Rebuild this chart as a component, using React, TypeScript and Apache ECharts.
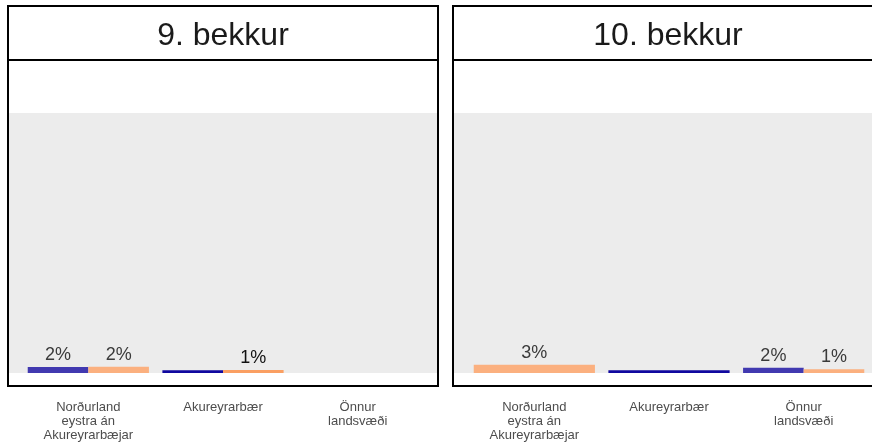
import React, { useEffect, useRef } from "react";
import * as echarts from "echarts";

const categories = ["Norðurland\neystra án\nAkureyrarbæjar", "Akureyrarbær", "Önnur\nlandsvæði"];
const panelTitles = ["9. bekkur", "10. bekkur"];
const blue9: (number | null)[] = [2.3, 1.1, null];
const orange9: (number | null)[] = [2.4, 1.2, null];
const blue10: (number | null)[] = [null, 1.1, 2.0];
const orange10: (number | null)[] = [3.2, null, 1.4];
const highlightCategory = "Akureyrarbær";

const FONT = "Liberation Sans, Arial, sans-serif";
const COLORS = {
  blue: "#4139b0",
  orange: "#fbb07f",
  blueHi: "#10089f",
  orangeHi: "#fa9f62",
};

type Meta = { color: string; showLabel: boolean; labelColor: string };

function makeSeries(panel: number, blue: (number | null)[], orange: (number | null)[]) {
  const data: any[] = [];
  const meta: Meta[] = [];
  categories.forEach((cat, i) => {
    const hi = cat === highlightCategory;
    const present: { v: number; kind: "blue" | "orange" }[] = [];
    if (blue[i] != null) present.push({ v: blue[i] as number, kind: "blue" });
    if (orange[i] != null) present.push({ v: orange[i] as number, kind: "orange" });
    present.forEach((p, slot) => {
      data.push([i, p.v, slot, present.length]);
      meta.push({
        color: p.kind === "blue" ? (hi ? COLORS.blueHi : COLORS.blue) : hi ? COLORS.orangeHi : COLORS.orange,
        showLabel: !(hi && p.kind === "blue"),
        labelColor: hi ? "#111111" : "#3a3a3a",
      });
    });
  });
  return {
    type: "custom",
    xAxisIndex: panel,
    yAxisIndex: panel,
    coordinateSystem: "cartesian2d",
    encode: { x: 0, y: 1 },
    z: 5,
    data,
    renderItem: (params: any, api: any) => {
      const cat = api.value(0);
      const val = api.value(1);
      const slot = api.value(2);
      const n = api.value(3);
      const m = meta[params.dataIndex];
      const base = api.coord([cat, 0]);
      const top = api.coord([cat, val]);
      const band = api.size([1, 0])[0];
      const total = band * 0.9;
      const w = total / n;
      const x0 = base[0] - total / 2 + slot * w;
      const children: any[] = [
        {
          type: "rect",
          shape: { x: x0, y: top[1], width: w, height: base[1] - top[1] },
          style: { fill: m.color },
        },
      ];
      if (m.showLabel) {
        children.push({
          type: "text",
          x: x0 + w / 2,
          y: top[1] - 4,
          style: {
            text: `${Math.round(val)}%`,
            fill: m.labelColor,
            font: `18px ${FONT}`,
            align: "center",
            verticalAlign: "bottom",
          },
        });
      }
      return { type: "group", children };
    },
  };
}

const panels = [
  { box: 8, gridLeft: 21, greyLeft: 9 },
  { box: 453, gridLeft: 467, greyLeft: 454 },
];

export default function App() {
  const ref = useRef<HTMLDivElement>(null);
  useEffect(() => {
    if (!ref.current) return;
    const chart = echarts.init(ref.current, null, { renderer: "svg" });
    const graphics: any[] = [];
    panels.forEach((p, i) => {
      graphics.push({
        type: "rect",
        z: 0,
        shape: { x: p.greyLeft, y: 113, width: 428, height: 260 },
        style: { fill: "#ececec" },
      });
      graphics.push({
        type: "rect",
        z: 100,
        shape: { x: p.box, y: 6, width: 430, height: 380 },
        style: { fill: "none", stroke: "#000", lineWidth: 2 },
      });
      graphics.push({
        type: "line",
        z: 100,
        shape: { x1: p.box, y1: 60, x2: p.box + 430, y2: 60 },
        style: { stroke: "#000", lineWidth: 2 },
      });
      graphics.push({
        type: "text",
        z: 100,
        x: p.box + 215,
        y: 34,
        style: {
          text: panelTitles[i],
          font: `32px ${FONT}`,
          fill: "#1a1a1a",
          align: "center",
          verticalAlign: "middle",
        },
      });
    });
    chart.setOption({
      animation: false,
      graphic: graphics,
      grid: panels.map((p) => ({ left: p.gridLeft, width: 404, top: 113, height: 260 })),
      xAxis: panels.map((_, i) => ({
        type: "category",
        gridIndex: i,
        data: categories,
        axisLine: { show: false },
        axisTick: { show: false },
        splitLine: { show: false },
        axisLabel: {
          interval: 0,
          margin: 26,
          fontSize: 13,
          lineHeight: 14,
          color: "#4d4d4d",
          fontFamily: FONT,
          verticalAlign: "top",
        },
      })),
      yAxis: panels.map((_, i) => ({
        type: "value",
        gridIndex: i,
        min: 0,
        max: 100,
        show: false,
        splitLine: { show: false },
      })),
      series: [makeSeries(0, blue9, orange9), makeSeries(1, blue10, orange10)],
    });
    return () => chart.dispose();
  }, []);
  return <div ref={ref} style={{ position: "fixed", left: 0, top: 0, width: 872, height: 445 }} />;
}
